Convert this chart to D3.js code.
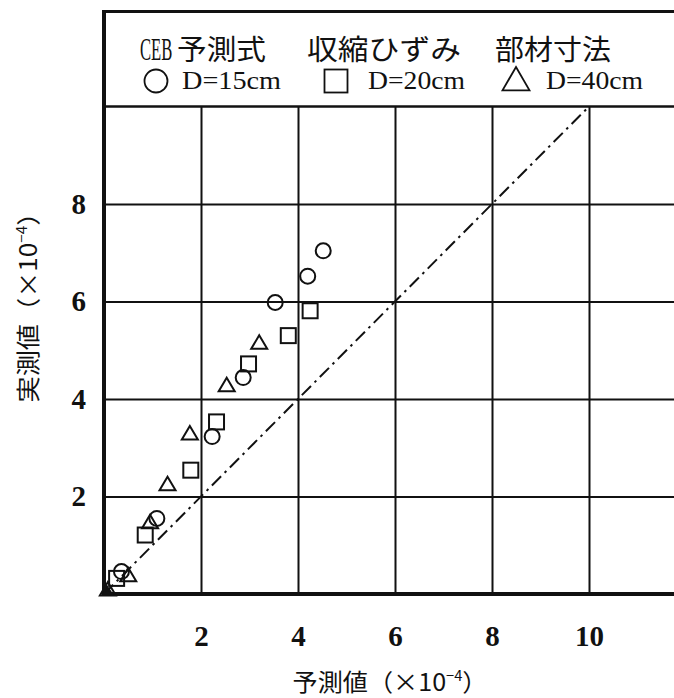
<!DOCTYPE html>
<html>
<head>
<meta charset="utf-8">
<script src="https://cdn.jsdelivr.net/npm/d3@7/dist/d3.min.js"></script>
<style>
  html, body { margin: 0; padding: 0; background: #fff; }
  svg { display: block; }
</style>
</head>
<body>
<script>
// Shrinkage strain: CEB prediction vs. measured, by member size (units ×10^-4)
const seriesNames = ["D=15cm", "D=20cm", "D=40cm"];
const seriesShapes = ["circle", "square", "triangle"];

const circleX = [4.52, 4.20, 3.53, 2.87, 2.23, 1.09, 0.36];
const circleY = [7.04, 6.52, 5.98, 4.44, 3.23, 1.55, 0.46];

const squareX = [4.25, 3.80, 2.98, 2.32, 1.79, 0.85, 0.26];
const squareY = [5.81, 5.30, 4.72, 3.53, 2.54, 1.21, 0.32];

const triangleX = [3.20, 2.53, 1.77, 1.31, 0.95, 0.50, 0.08];
const triangleY = [5.14, 4.27, 3.28, 2.24, 1.46, 0.37, 0.08];

const xTicks = [2, 4, 6, 8, 10];
const yTicks = [2, 4, 6, 8];
const xTickLabels = ["2", "4", "6", "8", "10"];
const yTickLabels = ["2", "4", "6", "8"];

const titleLine = ["CEB", "予測式", "収縮ひずみ", "部材寸法"];
const xTitle = "予測値（×10";
const yTitle = "実測値（×10";
const expText = "−4";

const W = 674, H = 698;
const svg = d3.select("body").append("svg").attr("width", W).attr("height", H);
svg.append("rect").attr("width", W).attr("height", H).attr("fill", "#fff");

const x = d3.scaleLinear().domain([0, 10]).range([104, 589]);
const y = d3.scaleLinear().domain([0, 10]).range([594, 106.5]);

const ink = "#111";
const serif = "'Liberation Serif', 'Times New Roman', serif";
const jp = "'Noto Sans CJK JP', 'Noto Sans', sans-serif";

// vertical grid + x tick labels
const xAxis = d3.axisBottom(x)
  .tickValues(xTicks)
  .tickFormat((d, i) => xTickLabels[i])
  .tickSizeInner(-(y(0) - y(10)))
  .tickSizeOuter(0)
  .tickPadding(31);
const gx = svg.append("g").attr("transform", `translate(0,${y(0)})`).call(xAxis);
gx.select(".domain").remove();
gx.selectAll(".tick line").attr("stroke", ink).attr("stroke-width", 2);
gx.selectAll(".tick text").attr("fill", ink).attr("font-family", serif)
  .attr("font-size", 29).attr("font-weight", "bold");

// horizontal grid + y tick labels (grid runs to the right edge)
const yAxis = d3.axisLeft(y)
  .tickValues(yTicks)
  .tickFormat((d, i) => yTickLabels[i])
  .tickSizeInner(-(W + 4 - x(0)))
  .tickSizeOuter(0)
  .tickPadding(18);
const gy = svg.append("g").attr("transform", `translate(${x(0)},0)`).call(yAxis);
gy.select(".domain").remove();
gy.selectAll(".tick line").attr("stroke", ink).attr("stroke-width", 2);
gy.selectAll(".tick text").attr("fill", ink).attr("font-family", serif)
  .attr("font-size", 29).attr("font-weight", "bold");

// frame: top border, header separator at y=10, left and bottom axes
const topY = y(11.95);
svg.append("line").attr("x1", x(0)).attr("x2", W + 4).attr("y1", topY).attr("y2", topY)
  .attr("stroke", ink).attr("stroke-width", 3);
svg.append("line").attr("x1", x(0)).attr("x2", W + 4).attr("y1", y(10)).attr("y2", y(10))
  .attr("stroke", ink).attr("stroke-width", 2.5);
svg.append("line").attr("x1", x(0)).attr("x2", x(0)).attr("y1", topY - 1.5).attr("y2", y(0) + 2)
  .attr("stroke", ink).attr("stroke-width", 4);
svg.append("line").attr("x1", x(0) - 2).attr("x2", W + 4).attr("y1", y(0)).attr("y2", y(0))
  .attr("stroke", ink).attr("stroke-width", 4);

// 1:1 reference line
svg.append("line")
  .attr("x1", x(0)).attr("y1", y(0)).attr("x2", x(10)).attr("y2", y(10))
  .attr("stroke", ink).attr("stroke-width", 2)
  .attr("stroke-dasharray", "13,5,2.5,5");

// markers
function drawShape(g, shape, cx, cy, s) {
  if (shape === "circle") {
    g.append("circle").attr("cx", cx).attr("cy", cy).attr("r", s / 2);
  } else if (shape === "square") {
    g.append("rect").attr("x", cx - s / 2).attr("y", cy - s / 2).attr("width", s).attr("height", s);
  } else {
    const h = s * 0.9;
    g.append("path").attr("d",
      `M${cx},${cy - h * 0.6}L${cx + s / 2 + 0.5},${cy + h * 0.4}L${cx - s / 2 - 0.5},${cy + h * 0.4}Z`);
  }
}

const seriesX = [circleX, squareX, triangleX];
const seriesY = [circleY, squareY, triangleY];
const marks = svg.append("g").attr("fill", "none").attr("stroke", ink).attr("stroke-width", 2);
seriesX.forEach((xs, si) => {
  xs.forEach((v, i) => {
    drawShape(marks, seriesShapes[si], x(v), y(seriesY[si][i]), 15);
  });
});
// dark corner mark at the origin
marks.append("path")
  .attr("d", `M${x(0)},${y(0)}L${x(0) + 8},${y(0)}L${x(0) + 2},${y(0) - 9}Z`)
  .attr("fill", ink);

// header text, line 1 (condensed Latin prefix drawn with a horizontal squeeze)
const h1 = svg.append("g").attr("fill", ink);
h1.append("text")
  .attr("transform", "translate(140,60) scale(0.52,1)")
  .attr("font-family", serif).attr("font-size", 32)
  .text(titleLine[0]);
const line1 = [
  { t: titleLine[1], x0: 177, w: 89 },
  { t: titleLine[2], x0: 307, w: 154 },
  { t: titleLine[3], x0: 495, w: 116 }
];
line1.forEach(d => {
  h1.append("text").attr("x", d.x0).attr("y", 60)
    .attr("font-family", jp).attr("font-size", 28)
    .attr("textLength", d.w).attr("lengthAdjust", "spacingAndGlyphs")
    .text(d.t);
});

// header legend, line 2
const leg = svg.append("g");
const legItems = [
  { sx: 156, tx: 182, w: 99 },
  { sx: 336, tx: 368, w: 97 },
  { sx: 516, tx: 546, w: 97 }
];
legItems.forEach((d, i) => {
  const g = leg.append("g").attr("fill", "none").attr("stroke", ink).attr("stroke-width", 1.8);
  drawShape(g, seriesShapes[i], d.sx, 81, i === 2 ? 26 : 23);
  leg.append("text").attr("x", d.tx).attr("y", 89)
    .attr("font-family", serif).attr("font-size", 26).attr("fill", ink)
    .attr("textLength", d.w).attr("lengthAdjust", "spacingAndGlyphs")
    .text(seriesNames[i]);
});

// axis titles
function axisTitle(g, main, len) {
  const t = g.append("text").attr("text-anchor", "middle")
    .attr("font-family", jp).attr("font-size", 24).attr("fill", ink)
    .attr("textLength", len).attr("lengthAdjust", "spacingAndGlyphs");
  t.append("tspan").text(main);
  t.append("tspan").attr("dy", -10).attr("font-size", 14).text(expText);
  t.append("tspan").attr("dy", 10).text("）");
}
axisTitle(svg.append("g").attr("transform", "translate(390,691)"), xTitle, 195);
axisTitle(svg.append("g").attr("transform", "translate(37,301) rotate(-90)"), yTitle, 203);
</script>
</body>
</html>
